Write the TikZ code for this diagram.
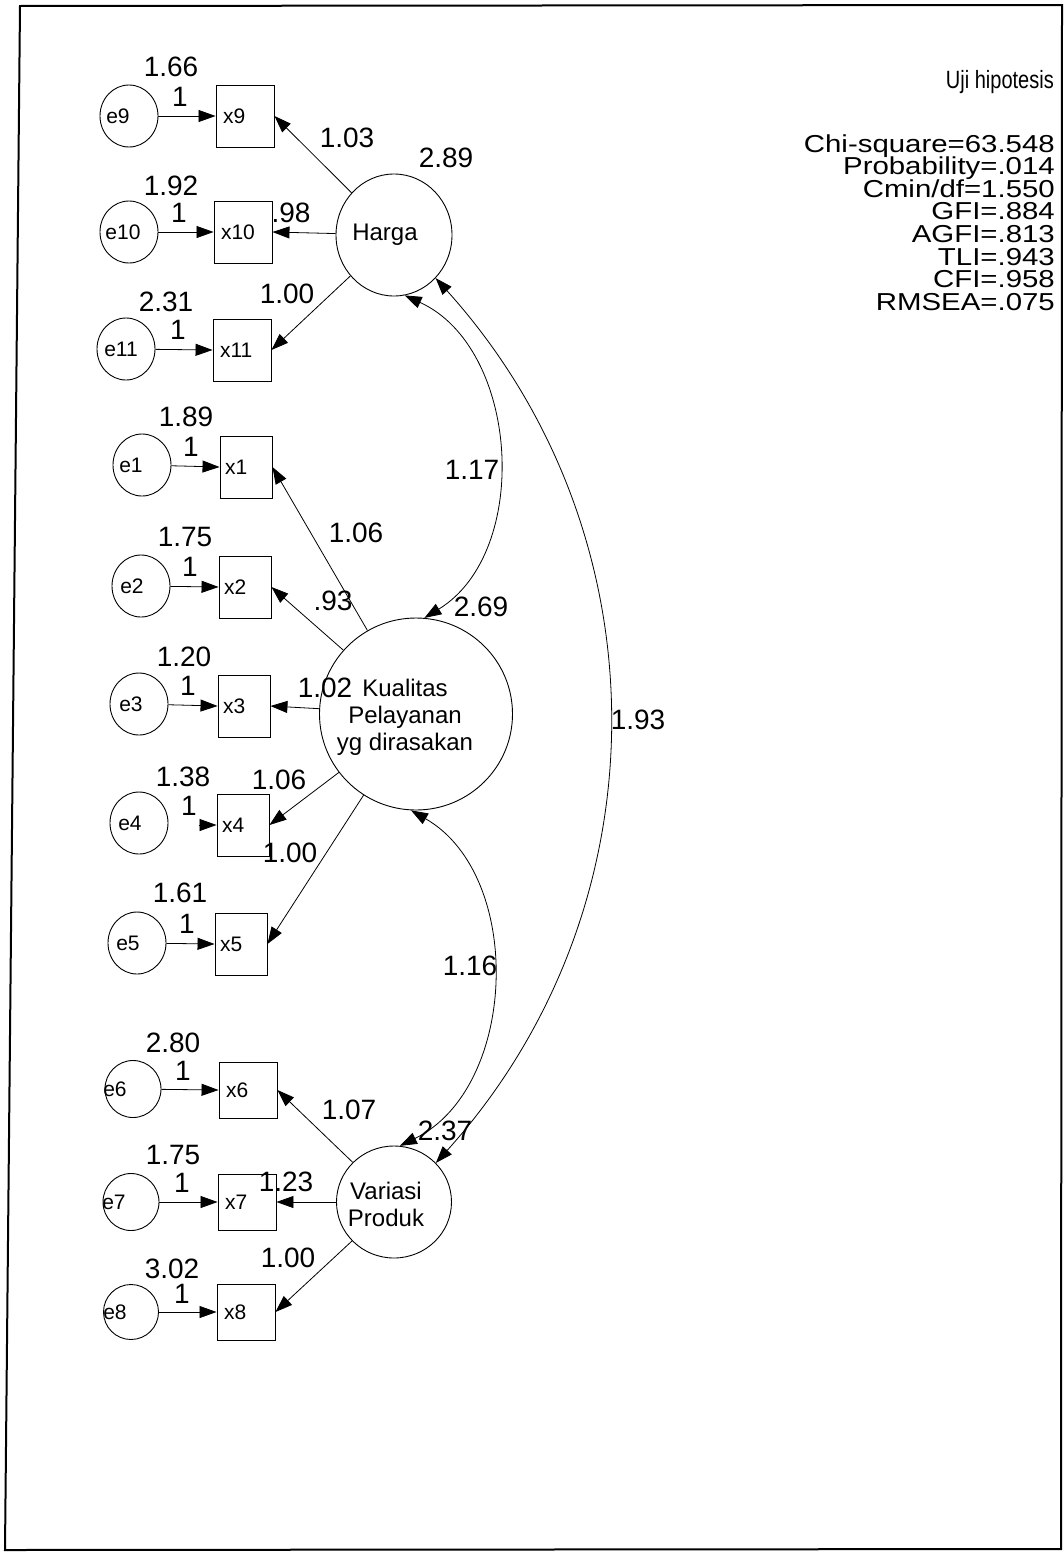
\documentclass[tikz,border=0pt]{standalone}
\usepackage{fontspec}
\setmainfont{Liberation Sans}
\newfontfamily\statfont[FakeStretch=1.2]{Liberation Sans}
\newfontfamily\ujifont[FakeStretch=0.8]{Liberation Sans}
\usetikzlibrary{arrows.meta,shapes.geometric}
\begin{document}
\begin{tikzpicture}[x=1pt,y=-1pt,
  err/.style={draw,ellipse,minimum width=58pt,minimum height=62pt,inner sep=0pt,line width=0.9pt},
  lat/.style={draw,ellipse,inner sep=0pt,line width=0.9pt},
  obsA/.style={draw,rectangle,line width=0.9pt,minimum height=62pt,text width=44pt,inner xsep=7pt,inner ysep=0pt,align=left,font=\fontsize{21pt}{21pt}\selectfont},
  obsB/.style={obsA,text width=42pt,inner xsep=5pt},
  obsC/.style={obsA,minimum height=56pt},
  num/.style={inner sep=0pt,font=\fontsize{28pt}{28pt}\selectfont},
  lbl/.style={inner sep=0pt,font=\fontsize{21pt}{21pt}\selectfont},
  nm/.style={inner sep=0pt,align=center,font=\fontsize{24pt}{27pt}\selectfont},
  stat/.style={inner sep=0pt,anchor=base east,font=\statfont\fontsize{24.5pt}{24pt}\selectfont},
  arr/.style={-{Triangle[length=17pt,width=12pt]},line width=0.8pt},
  cov/.style={{Triangle[length=17pt,width=12pt]}-{Triangle[length=17pt,width=12pt]},line width=0.8pt},
]
\useasboundingbox (0,0) rectangle (1064,1558);
% frame
\draw[line width=2pt] (20,6) -- (1062,5) -- (1061,1549) -- (5,1550) -- cycle;

% latent variables
\node[lat,minimum width=116pt,minimum height=122pt,label={[nm,xshift=-9pt]center:Harga}] (Harga) at (394,235) {};
\node[lat,minimum width=193pt,minimum height=192pt,label={[nm,xshift=-11pt,yshift=-3pt]center:Kualitas\\Pelayanan\\yg dirasakan}] (Kual) at (416,714) {};
\node[lat,minimum width=115pt,minimum height=112pt,label={[nm,xshift=-8pt,yshift=-2pt]center:Variasi\\Produk}] (Var) at (394,1202) {};

% observed variables
\node[obsA] (x9) at (245,116) {x9};
\node[obsA] (x10) at (243,232) {x10};
\node[obsA] (x11) at (242,350) {x11};
\node[obsB] (x1) at (246,467) {x1};
\node[obsB] (x2) at (245,587) {x2};
\node[obsB] (x3) at (244,706) {x3};
\node[obsB] (x4) at (243,825) {x4};
\node[obsB] (x5) at (241,944) {x5};
\node[obsC] (x6) at (248,1090) {x6};
\node[obsC] (x7) at (247,1202) {x7};
\node[obsC] (x8) at (246,1312) {x8};

% error terms
\node[err,label={[lbl,xshift=-11pt]center:e9}] (e9) at (129,116) {};
\node[err,label={[lbl,xshift=-6pt]center:e10}] (e10) at (129,232) {};
\node[err,label={[lbl,xshift=-5pt]center:e11}] (e11) at (126,349) {};
\node[err,label={[lbl,xshift=-11pt]center:e1}] (e1) at (142,465) {};
\node[err,label={[lbl,xshift=-9pt]center:e2}] (e2) at (141,586) {};
\node[err,label={[lbl,xshift=-8pt]center:e3}] (e3) at (139,704) {};
\node[err,label={[lbl,xshift=-9pt]center:e4}] (e4) at (139,823) {};
\node[err,label={[lbl,xshift=-9pt]center:e5}] (e5) at (137,943) {};
\node[err,minimum width=56pt,minimum height=57pt,label={[lbl,xshift=-18pt]center:e6}] (e6) at (133,1089) {};
\node[err,minimum width=56pt,minimum height=57pt,label={[lbl,xshift=-17pt]center:e7}] (e7) at (131,1202) {};
\node[err,minimum width=55pt,minimum height=55pt,label={[lbl,xshift=-16pt]center:e8}] (e8) at (131,1312) {};

% error -> indicator
\draw[arr] (e9) -- (x9.west);
\draw[arr] (e10) -- (x10.west);
\draw[arr] (e11) -- (x11.west);
\draw[arr] (e1) -- (x1.west);
\draw[arr] (e2) -- (x2.west);
\draw[arr] (e3) -- (x3.west);
\coordinate (e4tail) at ([xshift=-18pt]x4.west);
\draw[arr] (e4tail) -- (x4.west);
\draw[arr] (e5) -- (x5.west);
\draw[arr] (e6) -- (x6.west);
\draw[arr] (e7) -- (x7.west);
\draw[arr] (e8) -- (x8.west);

% loadings
\draw[arr] (Harga) -- (x9.east);
\draw[arr] (Harga) -- (x10.east);
\draw[arr] (Harga) -- (x11.east);
\draw[arr] (Kual) -- (x1.east);
\draw[arr] (Kual) -- (x2.east);
\draw[arr] (Kual) -- (x3.east);
\draw[arr] (Kual) -- (x4.east);
\draw[arr] (Kual) -- (x5.east);
\draw[arr] (Var) -- (x6.east);
\draw[arr] (Var) -- (x7.east);
\draw[arr] (Var) -- (x8.east);

% covariances
\draw[cov] (Harga.-80) to[bend left=62] (Kual.85);
\draw[cov] (Kual.-93) to[bend left=62] (Var.84);
\draw[cov] (Harga.-46) to[bend left=42] (Var.43);

% numbers
\node[num] (v9) at (171,67) {1.66};
\node[num] (w9) at (180,97) {1};
\node[num] (v10) at (171,186) {1.92};
\node[num] (w10) at (179,213) {1};
\node[num] (v11) at (166,302) {2.31};
\node[num] (w11) at (178,330) {1};
\node[num] (lo9) at (347,138) {1.03};
\node[num] (vH) at (446,158) {2.89};
\node[num] (lo10) at (291,213) {.98};
\node[num] (lo11) at (287,294) {1.00};
\node[num] (v1) at (186,417) {1.89};
\node[num] (w1) at (191,447) {1};
\node[num] (lo1) at (356,533) {1.06};
\node[num] (v2) at (185,537) {1.75};
\node[num] (w2) at (190,567) {1};
\node[num] (lo2) at (333,601) {.93};
\node[num] (v3) at (184,657) {1.20};
\node[num] (w3) at (188,686) {1};
\node[num] (lo3) at (325,688) {1.02};
\node[num] (v4) at (183,777) {1.38};
\node[num] (w4) at (189,806) {1};
\node[num] (lo4) at (279,780) {1.06};
\node[num] (lo5) at (290,853) {1.00};
\node[num] (v5) at (180,893) {1.61};
\node[num] (w5) at (187,924) {1};
\node[num] (v6) at (173,1043) {2.80};
\node[num] (w6) at (183,1071) {1};
\node[num] (lo6) at (349,1110) {1.07};
\node[num] (vV) at (445,1131) {2.37};
\node[num] (v7) at (173,1155) {1.75};
\node[num] (w7) at (182,1183) {1};
\node[num] (lo7) at (286,1182) {1.23};
\node[num] (lo8) at (288,1258) {1.00};
\node[num] (v8) at (172,1269) {3.02};
\node[num] (w8) at (182,1294) {1};
\node[num] (vK) at (481,607) {2.69};
\node[num] (c1) at (472,470) {1.17};
\node[num] (c2) at (470,966) {1.16};
\node[num] (c3) at (638,720) {1.93};

% fit statistics
\node[inner sep=0pt,anchor=base east,font=\ujifont\fontsize{25pt}{25pt}\selectfont] (uji) at (1054,88) {Uji hipotesis};
\foreach \t [count=\i] in {Chi-square=63.548,Probability=.014,Cmin/df=1.550,GFI=.884,AGFI=.813,TLI=.943,CFI=.958,RMSEA=.075}
  \node[stat] (s\i) at (1055,{152+(\i-1)*22.6}) {\t};
\end{tikzpicture}
\end{document}
